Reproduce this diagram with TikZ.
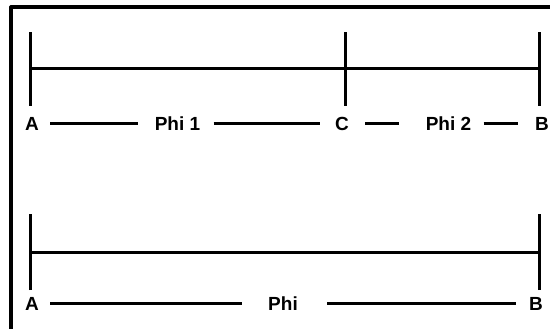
\documentclass[tikz,border=0pt]{standalone}
\usepackage{fontspec}
\setmainfont{Liberation Sans}
\begin{document}
\begin{tikzpicture}[x=1pt, y=-1pt, line join=round, line width=3pt, font=\bfseries\fontsize{19}{19}\selectfont]
	\tikzset{lab/.style={inner sep=0pt, text height=13.5pt, text depth=0pt, anchor=base}}
	\def\xa{30}\def\xc{345}\def\xb{539}
	\useasboundingbox (0,0) rectangle (550,329);
	%khung
	\draw[line width=3.2pt] (11,360) -- (11,7) -- (580,7);
	%doan tren
	\coordinate (a1) at (\xa,69); \coordinate (c1) at (\xc,69); \coordinate (b1) at (\xb,69);
	\foreach \p in {a1,c1,b1} \draw ([yshift=-37pt]\p) -- ([yshift=37pt]\p);
	\draw (a1) -- (b1);
	\node[lab] (A1) at (32,130.5) {A};
	\node[lab] (P1) at (177.5,130.5) {Phi 1};
	\node[lab] (C1) at (342,130.5) {C};
	\node[lab] (P2) at (448.5,130.5) {Phi 2};
	\node[lab] (B1) at (542,130.5) {B};
	\draw[shorten <=10pt, shorten >=15pt] (A1.east) -- (P1.west);
	\draw[shorten <=12pt, shorten >=14pt] (P1.east) -- (C1.west);
	\draw[shorten <=15pt, shorten >=25pt] (C1.east) -- (P2.west);
	\draw[shorten <=11pt, shorten >=16pt] (P2.east) -- (B1.west);
	%doan duoi
	\coordinate (a2) at (\xa,252); \coordinate (b2) at (\xb,252);
	\foreach \p in {a2,b2} \draw ([yshift=-38pt]\p) -- ([yshift=38pt]\p);
	\draw (a2) -- (b2);
	\node[lab] (A2) at (32,310.5) {A};
	\node[lab] (P3) at (283,310.5) {Phi};
	\node[lab] (B2) at (536,310.5) {B};
	\draw[shorten <=10pt, shorten >=25pt] (A2.east) -- (P3.west);
	\draw[shorten <=28pt, shorten >=12pt] (P3.east) -- (B2.west);
\end{tikzpicture}
\end{document}
